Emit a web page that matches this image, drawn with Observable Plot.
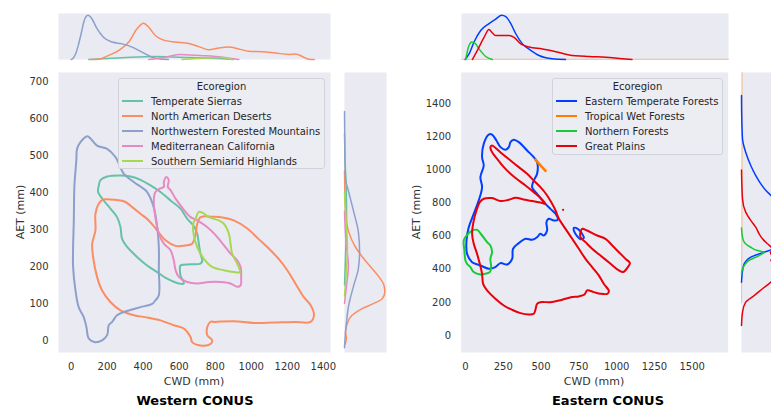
<!DOCTYPE html>
<html><head><meta charset="utf-8">
<script src="https://cdn.jsdelivr.net/npm/d3@7"></script>
<script src="https://cdn.jsdelivr.net/npm/@observablehq/plot@0.6"></script>
<style>
html,body{margin:0;padding:0;background:#fff;overflow:hidden;}
#root{position:relative;width:771px;height:409px;overflow:hidden;font-family:"DejaVu Sans",sans-serif;color:#333;}
.lbl{position:absolute;white-space:nowrap;line-height:1;transform:translate(-50%,-50%);}
.legend{position:absolute;box-sizing:border-box;background:#ECECF3;border:1px solid #D2D2DA;border-radius:3px;font-size:10px;color:#262626;}
.legend .ttl{position:absolute;left:0;right:0;text-align:center;line-height:15px;height:15px;}
.legend .sw{position:absolute;height:0;border-top-style:solid;border-top-width:2px;}
.legend .it{position:absolute;line-height:15px;height:15px;white-space:nowrap;}
</style></head>
<body><div id="root"></div>
<script>
// ---------- categories & colours ----------
const westRegions = ["Temperate Sierras","North American Deserts","Northwestern Forested Mountains","Mediterranean California","Southern Semiarid Highlands"];
const westColors = ["#66c2a5","#fc8d62","#8da0cb","#e78ac3","#a6d854"];
const eastRegions = ["Eastern Temperate Forests","Tropical Wet Forests","Northern Forests","Great Plains"];
const eastColors = ["#023eff","#ff7c00","#1ac938","#e8000b"];

// ---------- tick labels ----------
const westXTicks = [0,200,400,600,800,1000,1200,1400];
const westYTicks = [0,100,200,300,400,500,600,700];
const eastXTicks = [0,250,500,750,1000,1250,1500];
const eastYTicks = [0,200,400,600,800,1000,1200,1400];

// ---------- West contours [CWD, AET] ----------
const temperateSierras = [[154,420],[163,434],[200,444],[274,447],[330,444],[385,435],[441,420],[496,402],[552,379],[607,357],[644,330],[681,310],[700,289],[709,262],[718,235],[728,215],[718,208],[663,206],[607,203],[604,190],[607,176],[626,154],[598,154],[533,167],[478,185],[422,203],[366,226],[311,253],[283,275],[274,307],[255,334],[218,357],[181,379],[150,402]];
const naDeserts = [[135,343],[153,370],[175,381],[215,382],[265,380],[302,375],[339,361],[385,343],[431,325],[478,298],[524,271],[580,256],[635,257],[672,262],[690,285],[700,315],[716,333],[737,336],[780,335],[840,333],[903,325],[978,303],[1040,275],[1089,253],[1150,222],[1200,190],[1250,150],[1292,117],[1330,95],[1348,68],[1329,50],[1237,50],[1120,48],[1014,47],[903,52],[800,50],[774,50],[756,36],[756,14],[783,0],[774,-10],[718,-14],[672,-5],[663,9],[626,32],[570,41],[496,54],[422,62],[348,68],[274,81],[218,104],[172,135],[144,172],[122,226],[117,262],[135,298]];
const nwMountains = [[89,553],[110,546],[144,528],[200,519],[246,497],[292,452],[348,429],[422,402],[459,360],[478,307],[487,253],[487,190],[487,122],[468,108],[450,99],[385,90],[320,81],[255,68],[228,50],[209,41],[200,14],[172,0],[133,-5],[98,5],[85,36],[70,63],[42,90],[24,136],[11,199],[11,253],[15,325],[18,416],[29,488],[33,519],[52,537]];
const medCalifornia = [[529,443],[542,434],[537,416],[552,407],[580,384],[607,366],[635,348],[663,334],[700,325],[755,307],[802,285],[848,258],[885,235],[922,217],[941,199],[944,172],[941,149],[922,145],[885,154],[830,158],[765,158],[700,154],[644,158],[598,172],[580,190],[570,217],[552,244],[515,262],[487,289],[468,334],[459,379],[468,402],[492,411],[515,416],[515,429]];
const semiaridHighlands = [[709,348],[733,345],[765,334],[820,325],[848,316],[876,289],[885,262],[894,235],[922,208],[937,185],[904,185],[848,190],[783,199],[737,221],[700,253],[681,285],[678,316],[691,330]];

// ---------- East contours [CWD, AET] ----------
const etfMain = [[154,1214],[121,1158],[110,1077],[121,1027],[99,957],[110,896],[88,816],[55,735],[22,654],[7,574],[11,493],[44,443],[99,423],[154,403],[198,413],[232,437],[276,429],[309,463],[315,524],[353,558],[397,584],[441,578],[474,594],[496,614],[518,604],[540,634],[536,685],[551,705],[585,695],[611,699],[596,735],[562,765],[518,806],[474,856],[441,896],[452,936],[474,977],[474,1047],[452,1077],[408,1118],[353,1168],[320,1182],[298,1168],[287,1138],[265,1122],[232,1138],[205,1178],[176,1214]];
const etfLoop = [[717,650],[743,644],[772,614],[783,590],[761,582],[735,604],[717,634]];
const tropicalWet = [[463,1063],[492,1033],[530,995]];
const northernForests = [[44,634],[77,638],[110,604],[143,564],[165,544],[176,503],[165,463],[170,413],[161,383],[132,373],[99,369],[55,383],[33,413],[11,433],[0,453],[-7,514],[-11,574],[7,604]];
const gpMain = [[95,806],[121,826],[176,830],[232,812],[287,820],[331,832],[386,822],[441,812],[496,804],[529,796],[496,832],[452,866],[397,906],[353,936],[298,977],[254,1017],[210,1067],[176,1108],[165,1138],[176,1148],[198,1134],[243,1098],[298,1057],[353,1017],[408,977],[452,936],[496,896],[536,852],[567,806],[596,755],[618,705],[662,644],[706,584],[750,524],[794,463],[838,413],[882,363],[915,312],[949,268],[938,252],[893,252],[849,262],[805,272],[788,248],[750,236],[706,232],[662,222],[618,211],[562,201],[496,201],[474,191],[463,155],[452,131],[419,127],[364,135],[309,155],[254,181],[198,222],[143,272],[117,312],[110,373],[95,433],[77,493],[55,554],[44,614],[55,695],[73,755]];
const gpLobe = [[761,624],[772,644],[805,634],[871,604],[926,584],[971,544],[1015,503],[1059,463],[1088,437],[1074,413],[1043,383],[1015,393],[960,433],[893,483],[838,524],[794,564],[761,594]];
const gpDot = [[646,759]];

// ---------- marginal densities (relative) ----------
// West top: [CWD, density]
const wTopSierras = [[98,0],[283,0.037],[468,0.065],[653,0.043],[839,0.015],[900,0]];
const wTopDeserts = [[110,0],[153,0.005],[209,0.09],[265,0.2],[320,0.38],[366,0.67],[403,0.79],[431,0.70],[468,0.52],[524,0.41],[579,0.38],[653,0.35],[709,0.28],[765,0.21],[820,0.25],[876,0.27],[931,0.23],[987,0.18],[1061,0.17],[1135,0.14],[1209,0.11],[1246,0.12],[1283,0.065],[1320,0.005],[1350,0]];
const wTopNW = [[0,0],[5,0.01],[25,0.12],[42,0.34],[58,0.6],[70,0.81],[82,0.93],[94,0.96],[116,0.88],[144,0.67],[181,0.48],[228,0.38],[283,0.34],[339,0.27],[394,0.16],[450,0.05],[487,0.015],[540,0]];
const wTopMed = [[431,0],[524,0.05],[598,0.11],[653,0.10],[746,0.08],[839,0.05],[931,0]];
const wTopSSH = [[616,0],[746,0.03],[839,0.045],[894,0]];
// West right: [density, AET]
const wRightSierras = [[0,560],[0.02,470],[0.04,420],[0.05,330],[0.03,250],[0.01,180],[0,150]];
const wRightDeserts = [[0,460],[0.005,420],[0.024,348],[0.10,294],[0.26,253],[0.46,221],[0.66,194],[0.82,172],[0.94,149],[0.96,131],[0.90,113],[0.70,100],[0.42,86],[0.18,68],[0.064,45],[0.024,23],[0.045,5],[0.02,-8],[0,-14]];
const wRightNW = [[0,620],[0.005,560],[0.01,492],[0.024,438],[0.10,402],[0.22,348],[0.33,294],[0.36,239],[0.33,194],[0.22,149],[0.10,95],[0.04,41],[0.01,0],[0,-20]];
const wRightMed = [[0,350],[0.04,260],[0.095,203],[0.05,150],[0,100]];
const wRightSSH = [[0,400],[0.04,320],[0.07,250],[0.04,180],[0,120]];
// East top: [CWD, density]
const eTopETF = [[-4,0],[22,0.12],[55,0.38],[99,0.63],[154,0.78],[198,0.88],[238,0.96],[265,0.93],[298,0.78],[331,0.56],[375,0.34],[430,0.20],[485,0.087],[574,0.015],[660,0]];
const eTopTWF = [[-28,0.004],[1738,0.004]];
const eTopNF = [[0,0],[18,0.27],[40,0.38],[62,0.35],[88,0.23],[132,0.065],[176,0]];
const eTopGP = [[44,0],[77,0.20],[121,0.48],[154,0.65],[175,0.58],[198,0.52],[243,0.52],[287,0.52],[320,0.48],[364,0.34],[419,0.27],[507,0.23],[596,0.17],[684,0.10],[816,0.065],[927,0.05],[1037,0.015],[1100,0]];
// East right: [density, AET]
const eRightETF = [[0,1450],[0.005,1329],[0.024,1188],[0.10,1107],[0.22,1027],[0.34,966],[0.46,916],[0.58,876],[0.70,846],[0.85,800],[1.0,700],[0.95,600],[0.74,523],[0.54,503],[0.22,473],[0.05,423],[0.01,360],[0,322]];
const eRightTWF = [[0.012,1589],[0.012,1100],[0.01,700],[0.005,400],[0,200]];
const eRightNF = [[0,650],[0.02,600],[0.064,564],[0.22,533],[0.38,513],[0.54,503],[0.42,483],[0.18,453],[0.064,423],[0.01,390],[0,370]];
const eRightGP = [[0,1000],[0.024,825],[0.10,745],[0.22,695],[0.34,654],[0.42,614],[0.50,584],[0.62,554],[0.71,533],[0.76,515],[0.69,503],[0.72,485],[0.78,470],[0.70,455],[0.76,440],[0.9,420],[0.88,380],[0.70,322],[0.50,282],[0.30,241],[0.10,201],[0.024,141],[0,60]];

// ---------- helpers ----------
const BG = "#EAEAF2";
const root = document.getElementById("root");
const svgStyle = {background: "none", overflow: "visible", color: "#333", fontFamily: "DejaVu Sans, sans-serif", fontSize: "10px"};
function put(el, left, top) { el.style.position = "absolute"; el.style.left = left + "px"; el.style.top = top + "px"; root.appendChild(el); return el; }
function label(str, cx, cy, size, extra) {
  const d = document.createElement("div"); d.className = "lbl"; d.textContent = str;
  d.style.left = cx + "px"; d.style.top = cy + "px"; d.style.fontSize = size + "px";
  if (extra) Object.assign(d.style, extra);
  root.appendChild(d); return d;
}
const pts = (arr, region, id) => arr.map(([x, y]) => ({x, y, region, id}));
const dens = (arr, region) => arr.map(([x, d]) => ({x, d, region}));
const densR = (arr, region) => arr.map(([d, y]) => ({d, y, region})).sort((a, b) => a.y - b.y);
const fmt = d3.format("d");

function mainPlot(opts) {
  return Plot.plot({
    width: opts.width, height: 330, marginLeft: opts.ml, marginRight: opts.mr, marginTop: 12, marginBottom: 38,
    x: {domain: opts.xd, ticks: opts.xt, tickSize: 0, tickPadding: 10, tickFormat: fmt, label: null},
    y: {domain: opts.yd, ticks: opts.yt, tickSize: 0, tickPadding: 10, tickFormat: fmt, label: null},
    color: {domain: opts.regions, range: opts.colors},
    style: svgStyle,
    marks: [Plot.frame({fill: BG, stroke: "none"}), ...opts.marks]
  });
}
function topPlot(opts) {
  return Plot.plot({
    width: opts.width, height: 46, margin: 0,
    x: {domain: opts.xd, axis: null}, y: {domain: [0, 1], axis: null},
    color: {domain: opts.regions, range: opts.colors},
    style: svgStyle,
    marks: [Plot.frame({fill: BG, stroke: "none"}),
      Plot.line(opts.faint || [], {x: "x", y: "d", z: "region", stroke: "region", strokeWidth: 1, strokeOpacity: 0.45}),
      Plot.line(opts.data, {x: "x", y: "d", z: "region", stroke: "region", strokeWidth: 1.5, curve: "monotone-x"})]
  });
}
function rightPlot(opts) {
  return Plot.plot({
    width: opts.width, height: 280, margin: 0,
    x: {domain: opts.xd, axis: null}, y: {domain: opts.yd, axis: null},
    color: {domain: opts.regions, range: opts.colors},
    style: svgStyle,
    marks: [Plot.frame({fill: BG, stroke: "none"}),
      Plot.line(opts.faint || [], {x: "d", y: "y", z: "region", stroke: "region", strokeWidth: 1, strokeOpacity: 0.45}),
      Plot.line(opts.data, {x: "d", y: "y", z: "region", stroke: "region", strokeWidth: 1.5, curve: "monotone-y"})]
  });
}
function legend(regions, colors, left, top, width, height) {
  const box = document.createElement("div"); box.className = "legend";
  Object.assign(box.style, {left: left + "px", top: top + "px", width: width + "px", height: height + "px"});
  const t = document.createElement("div"); t.className = "ttl"; t.textContent = "Ecoregion"; t.style.top = "0px"; box.appendChild(t);
  regions.forEach((r, i) => {
    const sw = document.createElement("div"); sw.className = "sw";
    Object.assign(sw.style, {left: "3px", width: "21px", top: (15 * (i + 1) + 6) + "px", borderTopColor: colors[i]});
    const it = document.createElement("div"); it.className = "it"; it.textContent = r;
    Object.assign(it.style, {left: "32px", top: (15 * (i + 1)) + "px"});
    box.appendChild(sw); box.appendChild(it);
  });
  root.appendChild(box);
}

// ---------- West ----------
const westContours = [
  ...pts(temperateSierras, westRegions[0], "w0"),
  ...pts(naDeserts, westRegions[1], "w1"),
  ...pts(nwMountains, westRegions[2], "w2"),
  ...pts(medCalifornia, westRegions[3], "w3"),
  ...pts(semiaridHighlands, westRegions[4], "w4")
];
put(mainPlot({
  width: 340, ml: 58, mr: 10, xd: [-70, 1440], yd: [-33, 726], xt: westXTicks, yt: westYTicks,
  regions: westRegions, colors: westColors,
  marks: [Plot.line(westContours, {x: "x", y: "y", z: "id", stroke: "region", strokeWidth: 2, curve: "catmull-rom-closed"})]
}), 0, 60);
put(topPlot({
  width: 272, xd: [-70, 1440], regions: westRegions, colors: westColors,
  data: [...dens(wTopSierras, westRegions[0]), ...dens(wTopDeserts, westRegions[1]), ...dens(wTopNW, westRegions[2]), ...dens(wTopMed, westRegions[3]), ...dens(wTopSSH, westRegions[4])]
}), 58, 13);
put(rightPlot({
  width: 42, xd: [0, 1], yd: [-33, 726], regions: westRegions, colors: westColors,
  data: [...densR(wRightSierras, westRegions[0]), ...densR(wRightDeserts, westRegions[1]), ...densR(wRightNW, westRegions[2]), ...densR(wRightMed, westRegions[3]), ...densR(wRightSSH, westRegions[4])]
}), 344, 72);
legend(westRegions, westColors, 118, 78, 207, 91);
label("CWD (mm)", 194, 381, 11);
label("AET (mm)", 20, 212, 11, {transform: "translate(-50%,-50%) rotate(-90deg)"});
label("Western CONUS", 195, 400, 13, {fontWeight: "bold", color: "#000"});

// ---------- East ----------
const eastContours = [
  ...pts(etfMain, eastRegions[0], "e0a"),
  ...pts(etfLoop, eastRegions[0], "e0b"),
  ...pts(northernForests, eastRegions[2], "e2"),
  ...pts(gpMain, eastRegions[3], "e3a"),
  ...pts(gpLobe, eastRegions[3], "e3b")
];
const eastOpen = pts(tropicalWet, eastRegions[1], "e1");
const eastDot = pts(gpDot, eastRegions[3], "e3c");
put(mainPlot({
  width: 335, ml: 60.7, mr: 7.3, xd: [-28, 1738], yd: [-103, 1589], xt: eastXTicks, yt: eastYTicks,
  regions: eastRegions, colors: eastColors,
  marks: [
    Plot.line(eastContours.filter(d => d.region === eastRegions[0]), {x: "x", y: "y", z: "id", stroke: "region", strokeWidth: 2, curve: "catmull-rom-closed"}),
    Plot.line(eastOpen, {x: "x", y: "y", stroke: "region", strokeWidth: 2.6, curve: "catmull-rom"}),
    Plot.line(eastContours.filter(d => d.region !== eastRegions[0]), {x: "x", y: "y", z: "id", stroke: "region", strokeWidth: 2, curve: "catmull-rom-closed"}),
    Plot.dot(eastDot, {x: "x", y: "y", fill: "region", r: 1.1})
  ]
}), 400, 60);
put(topPlot({
  width: 267, xd: [-28, 1738], regions: eastRegions, colors: eastColors,
  faint: dens(eTopTWF, eastRegions[1]),
  data: [...dens(eTopETF, eastRegions[0]), ...dens(eTopNF, eastRegions[2]), ...dens(eTopGP, eastRegions[3])]
}), 460.7, 13);
put(rightPlot({
  width: 42, xd: [0, 1], yd: [-103, 1589], regions: eastRegions, colors: eastColors,
  faint: densR(eRightTWF, eastRegions[1]),
  data: [...densR(eRightETF, eastRegions[0]), ...densR(eRightNF, eastRegions[2]), ...densR(eRightGP, eastRegions[3])]
}), 740.7, 72);
legend(eastRegions, eastColors, 552, 78, 171, 77);
label("CWD (mm)", 594, 381, 11);
label("AET (mm)", 416, 212, 11, {transform: "translate(-50%,-50%) rotate(-90deg)"});
label("Eastern CONUS", 608, 400, 13, {fontWeight: "bold", color: "#000"});
</script>
</body></html>
